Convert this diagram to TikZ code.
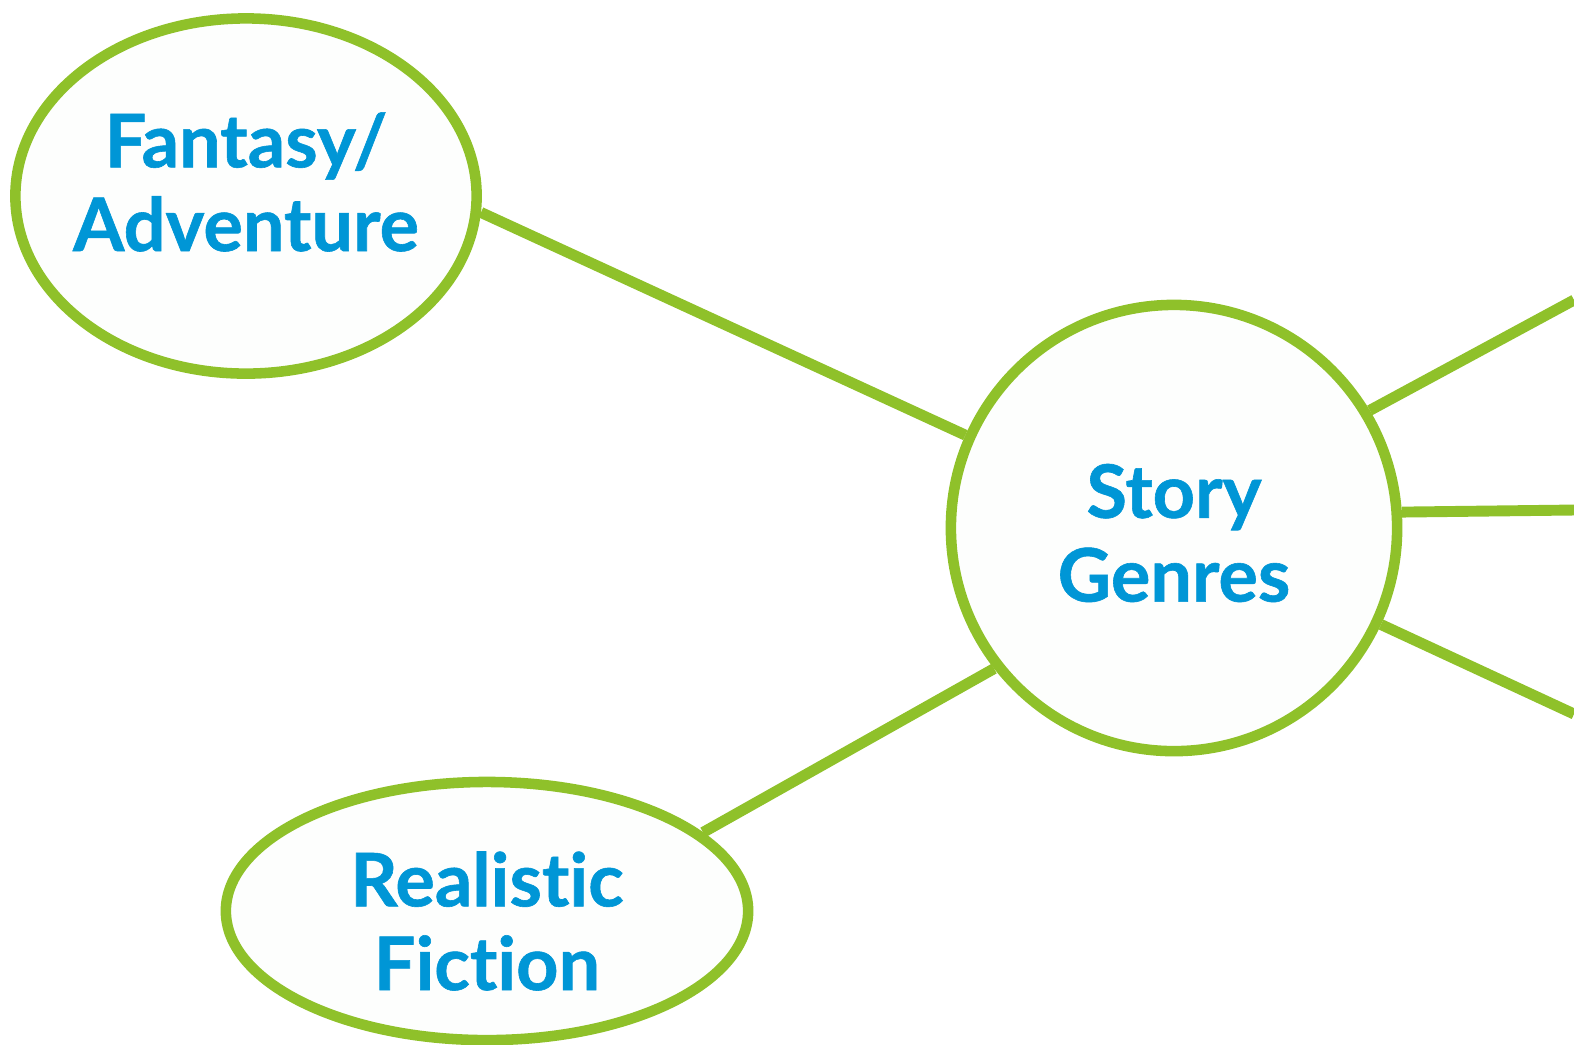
\documentclass[tikz,border=0pt]{standalone}
\usepackage{fontspec}
\setsansfont[Ligatures={NoCommon}, BoldFeatures={FakeBold=0.8}]{Lato}
\usetikzlibrary{shapes.geometric, positioning}
\definecolor{genregreen}{RGB}{143,193,42}
\definecolor{genreblue}{RGB}{0,150,214}
\definecolor{genrefill}{RGB}{253,254,253}

\begin{document}
\begin{tikzpicture}[x=0.01cm, y=-0.01cm,
  genre/.style={ellipse, draw=genregreen, line width=3pt, fill=genrefill,
    inner xsep=-5mm, inner ysep=0pt},
  caption/.style={text=genreblue, align=center, inner sep=0pt,
    font=\sffamily\bfseries\fontsize{21}{23.8}\selectfont},
  link/.style={genregreen, line width=3.1pt}]
  \useasboundingbox (0,0) rectangle (1574,1044);

  % hub and the two genres on the left
  \node[genre, circle, minimum size=4.46cm] (story) at (1174,528) {};
  \node[genre, minimum width=4.61cm, minimum height=3.55cm] (fantasy) at (246,196) {};
  \node[genre, minimum width=5.22cm, minimum height=2.58cm] (realistic) at (487,911) {};

  \node[caption] (storytext) at ([yshift=-0.05cm]story.center) {Story\\Genres};
  \node[caption] (fantasytext) at ([yshift=0.14cm]fantasy.center) {Fantasy/\\Adventure};
  \node[caption] (realistictext) at ([yshift=-0.1cm]realistic.center) {Realistic\\Fiction};

  % branches running off the right edge
  \coordinate (outa) at (1574,300);
  \coordinate (outb) at (1574,510);
  \coordinate (outc) at (1574,714);

  \draw[link] (fantasy.-4) -- (story.156);
  \draw[link] (realistic.20) -- (story.218);
  \draw[link] (story.31) -- (outa);
  \draw[link] (story.4) -- (outb);
  \draw[link] (story.-25) -- (outc);
\end{tikzpicture}
\end{document}
